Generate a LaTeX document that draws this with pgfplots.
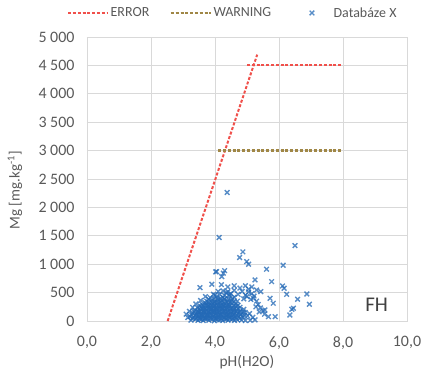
\documentclass[border=0pt]{standalone}
\usepackage{fontspec}
\setmainfont{Carlito}
\usepackage{pgfplots}
\usepackage{pgfplotstable}
\pgfplotsset{compat=1.18}
\definecolor{errred}{RGB}{240,80,75}
\definecolor{warnbrown}{RGB}{160,135,70}
\definecolor{ptblue}{RGB}{35,105,182}
\definecolor{gridgray}{RGB}{217,217,217}
\definecolor{txtgray}{RGB}{89,89,89}

\pgfplotstableread{
x y
2.52 0
5.32 4690
}\errslope
\pgfplotstableread{
x y
5.0 4500
8.0 4500
}\errflat
\pgfplotstableread{
x y
4.1 3000
8.0 3000
}\warnflat
\pgfplotstableread{
x y
3.25 15
3.38 30
3.47 10
3.56 25
3.63 8
3.72 35
3.81 12
3.90 28
3.98 5
4.07 22
4.15 18
4.24 9
4.33 31
4.41 14
4.52 26
4.61 11
4.70 20
4.83 16
4.95 8
5.10 12
5.25 20
3.22 80
3.33 65
3.44 90
3.52 70
3.61 85
3.69 60
3.78 95
3.86 72
3.95 88
4.03 66
4.12 93
4.20 78
4.29 62
4.37 87
4.46 74
4.55 91
4.64 68
4.75 83
4.88 70
5.02 90
5.18 65
3.30 140
3.41 120
3.50 150
3.58 125
3.67 145
3.75 118
3.84 138
3.92 155
4.01 128
4.09 147
4.18 122
4.26 152
4.35 133
4.43 119
4.52 148
4.60 127
4.71 140
4.82 118
4.94 150
5.08 130
3.36 190
3.47 175
3.55 200
3.64 180
3.73 195
3.81 172
3.89 205
3.97 185
4.06 198
4.14 178
4.23 208
4.31 188
4.40 176
4.49 202
4.58 183
4.68 195
4.79 178
4.90 205
3.45 235
3.57 250
3.66 228
3.76 255
3.85 240
3.93 262
4.02 232
4.11 258
4.19 245
4.28 265
4.36 238
4.45 252
4.55 230
4.66 260
4.78 242
3.60 290
3.72 305
3.83 285
3.94 310
4.04 295
4.13 318
4.22 288
4.32 305
4.42 292
4.53 315
4.65 298
3.75 345
3.90 360
4.00 340
4.10 372
4.20 355
4.30 380
4.40 348
4.52 365
4.70 350
3.85 410
4.05 430
4.25 415
4.45 440
4.60 420
3.30 45
3.42 50
3.52 40
3.60 55
3.68 42
3.77 50
3.85 45
3.94 55
4.02 40
4.10 52
4.19 44
4.28 56
4.37 41
4.46 50
4.56 46
4.66 53
4.78 44
3.28 105
3.38 98
3.48 110
3.57 102
3.65 112
3.73 100
3.82 108
3.90 104
3.99 112
4.07 99
4.16 107
4.24 113
4.33 101
4.41 109
4.50 103
4.59 111
4.69 100
4.80 106
4.92 100
3.35 162
3.46 158
3.54 168
3.63 160
3.71 166
3.80 159
3.88 168
3.96 162
4.05 170
4.13 158
4.22 167
4.30 163
4.39 169
4.48 160
4.57 166
4.67 161
4.77 165
4.88 160
3.50 212
3.60 220
3.69 214
3.78 222
3.87 216
3.95 224
4.04 213
4.13 221
4.22 217
4.31 225
4.40 214
4.50 222
4.60 216
4.72 220
3.52 270
3.63 265
3.72 275
3.80 268
3.90 280
3.99 268
4.08 276
4.17 270
4.26 282
4.35 272
4.45 278
4.58 268
4.72 275
3.68 325
3.80 330
3.90 322
3.99 332
4.08 326
4.18 334
4.27 324
4.37 330
4.48 328
4.60 335
3.80 385
3.95 395
4.07 388
4.17 398
4.30 392
4.42 390
4.55 395
4.00 455
4.15 465
4.30 450
4.45 470
4.10 520
4.25 530
4.40 515
4.72 470
4.85 520
4.95 455
5.05 510
5.15 480
4.90 390
5.00 430
5.12 380
5.22 440
5.30 350
5.35 290
5.42 230
5.50 180
5.55 120
5.38 160
5.28 250
4.60 540
4.35 500
4.50 480
3.95 470
3.70 430
3.55 360
3.40 300
3.30 240
3.20 170
3.15 60
3.10 120
4.78 580
4.95 620
5.05 560
5.15 600
5.30 545
4.60 620
4.40 600
4.20 640
4.38 2263
4.13 1470
6.50 1328
4.87 1217
4.77 1117
4.99 1046
5.05 1000
5.61 912
6.13 982
4.02 864
4.30 887
4.21 781
5.25 723
5.77 693
3.53 587
3.90 647
6.11 617
6.16 577
6.24 470
6.87 476
6.95 294
6.58 383
6.45 224
6.34 106
5.88 76
5.67 76
5.43 517
5.72 400
5.82 312
5.20 400
5.56 194
6.40 206
4.26 841
4.05 870
}\ptdata

\begin{document}
\begin{tikzpicture}
\path[use as bounding box] (-87bp,-48bp) rectangle (337bp,321bp);
\begin{axis}[
  at={(0,0)}, anchor=south west,
  scale only axis, width=320bp, height=284bp,
  xmin=0, xmax=10, ymin=0, ymax=5000,
  xtick={0,2,...,10}, ytick={0,500,...,5000},
  major tick length=0pt,
  grid=major,
  major grid style={draw=gridgray, line width=0.8bp},
  axis line style={draw=gridgray, line width=0.8bp},
  clip=false,
  font=\fontsize{14}{16}\selectfont,
  tick label style={text=txtgray, font=\fontsize{16}{18}\selectfont},
  /pgf/number format/assume math mode=true,
  xticklabel style={/pgf/number format/fixed, /pgf/number format/fixed zerofill, /pgf/number format/precision=1, /pgf/number format/use comma, yshift=-12bp},
  yticklabel style={/pgf/number format/fixed, /pgf/number format/1000 sep={\ }, xshift=-9bp},
  xlabel={pH(H2O)},
  xlabel style={text=txtgray, font=\fontsize{15.5}{18}\selectfont, at={(axis description cs:0.5,-0.12)}, anchor=north, inner sep=0pt},
  ylabel={Mg [mg.kg\textsuperscript{-1}]},
  ylabel style={text=txtgray, font=\fontsize{15}{18}\selectfont, at={(axis description cs:-0.225,0.46)}, anchor=center},
  legend columns=3,
  legend style={draw=none, fill=none, at={(axis description cs:0.455,1.0845)}, anchor=center,
    font=\fontsize{14}{16}\selectfont, text=txtgray,
    /tikz/every even column/.append style={column sep=19bp},
    nodes={inner sep=1.5bp}},
  legend image code/.code={\path (0bp,0bp) -- (40bp,0bp); \draw[mark repeat=2, mark phase=2, #1] plot coordinates {(0bp,0bp) (20bp,0bp) (40bp,0bp)};},
]
\addplot[errred, line width=2bp, dash pattern=on 3bp off 1.8bp] table {\errslope};
\addlegendentry{ERROR}
\addplot[warnbrown, line width=2.2bp, dash pattern=on 3bp off 1.8bp, forget plot] table {\warnflat};
\addplot[errred, line width=2.2bp, dash pattern=on 3bp off 1.8bp, forget plot] table {\errflat};
\addlegendimage{warnbrown, line width=2.2bp, dash pattern=on 3bp off 1.8bp}
\addlegendentry{WARNING}
\addplot[only marks, mark=x, mark size=3.3bp, ptblue, draw opacity=0, mark options={line width=1.35bp, draw opacity=0.76}] table {\ptdata};
\addlegendentry{Databáze X}
\node[text=black!75, font=\fontsize{21}{24}\selectfont] at (axis cs:9.05,282) {FH};
\end{axis}
\end{tikzpicture}
\end{document}
